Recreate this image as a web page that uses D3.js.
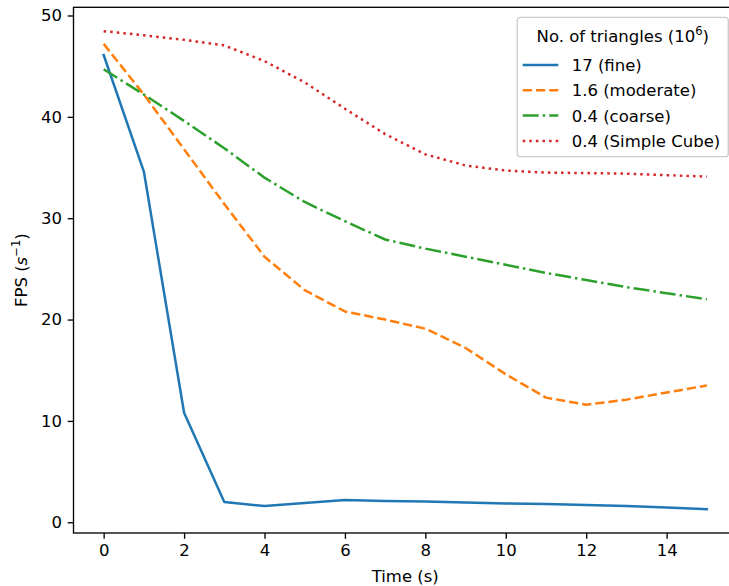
<!DOCTYPE html>
<html>
<head>
<meta charset="utf-8">
<script src="https://cdn.jsdelivr.net/npm/d3@7/dist/d3.min.js"></script>
<style>
  html, body { margin: 0; padding: 0; background: #fff; }
  svg { display: block; }
  text { font-family: "DejaVu Sans", sans-serif; fill: #000; }
</style>
</head>
<body>
<svg id="chart" width="729" height="586"></svg>
<script>
// ---- data ----
const time = [0,1,2,3,4,5,6,7,8,9,10,11,12,13,14,15];
const fine     = [46.1, 34.6, 10.8, 2.0, 1.6, 1.9, 2.2, 2.1, 2.05, 1.95, 1.85, 1.8, 1.7, 1.6, 1.45, 1.3];
const moderate = [47.2, 42.2, 36.8, 31.4, 26.2, 22.9, 20.8, 20.0, 19.1, 17.2, 14.6, 12.3, 11.6, 12.1, 12.8, 13.5];
const coarse   = [44.7, 42.2, 39.6, 36.9, 34.0, 31.6, 29.7, 27.9, 27.0, 26.2, 25.4, 24.6, 23.9, 23.2, 22.6, 22.0];
const cube     = [48.45, 48.05, 47.6, 47.05, 45.5, 43.4, 40.8, 38.3, 36.3, 35.2, 34.7, 34.5, 34.45, 34.4, 34.25, 34.1];
const seriesLabels = ["17 (fine)", "1.6 (moderate)", "0.4 (coarse)", "0.4 (Simple Cube)"];
const xTicks = [0,2,4,6,8,10,12,14];
const yTicks = [0,10,20,30,40,50];

const seriesValues = [fine, moderate, coarse, cube];
const colors = ["#1f77b4", "#ff7f0e", "#2ca02c", "#d62728"];
const dashes = [null, "9.25 4", "16 4 2.5 4", "2.5 4.1"];

const svg = d3.select("#chart");
const fs = 16.5;
const L = 73.5, R = 737, T = 7.3, B = 533;

const xMin = d3.min(time), xMax = d3.max(time);
const xPad = (xMax - xMin) * 0.05;
const allY = seriesValues.flat();
const yMin = d3.min(allY), yMax = d3.max(allY);
const yPad = (yMax - yMin) * 0.05;

const x = d3.scaleLinear().domain([xMin - xPad, xMax + xPad]).range([L, R]);
const y = d3.scaleLinear().domain([yMin - yPad, yMax + yPad]).range([B, T]);

// lines
const line = d3.line().x((d, i) => x(time[i])).y(d => y(d));
const g = svg.append("g");
seriesValues.forEach((vals, k) => {
  g.append("path")
    .datum(vals)
    .attr("d", line)
    .attr("fill", "none")
    .attr("stroke", colors[k])
    .attr("stroke-width", 2.5)
    .attr("stroke-linejoin", "round")
    .attr("stroke-linecap", k === 0 ? "square" : "butt")
    .attr("stroke-dasharray", dashes[k]);
});

// axes
const xAxis = d3.axisBottom(x).tickValues(xTicks).tickSize(5.8).tickPadding(5.8).tickFormat(d3.format("d"));
const yAxis = d3.axisLeft(y).tickValues(yTicks).tickSize(5.8).tickPadding(5.8).tickFormat(d3.format("d"));

const gx = svg.append("g").attr("transform", `translate(0,${B})`).call(xAxis);
const gy = svg.append("g").attr("transform", `translate(${L},0)`).call(yAxis);
[gx, gy].forEach(ax => {
  ax.select(".domain").remove();
  ax.selectAll(".tick line").attr("stroke", "#000").attr("stroke-width", 1.33);
  ax.selectAll(".tick text").style("font-family", "DejaVu Sans").style("font-size", fs + "px").attr("fill", "#000");
});

// spines
svg.append("rect")
  .attr("x", L).attr("y", T).attr("width", R - L).attr("height", B - T)
  .attr("fill", "none").attr("stroke", "#000").attr("stroke-width", 1.33);

// axis labels
svg.append("text")
  .attr("x", (L + R) / 2).attr("y", 582)
  .attr("text-anchor", "middle").style("font-size", fs + "px")
  .text("Time (s)");

const yl = svg.append("text")
  .attr("transform", `translate(27,${(T + B) / 2}) rotate(-90)`)
  .attr("text-anchor", "middle").style("font-size", fs + "px");
yl.append("tspan").text("FPS (");
yl.append("tspan").style("font-style", "italic").text("s");
yl.append("tspan").attr("dy", -7).style("font-size", (fs * 0.7) + "px").text("\u22121");
yl.append("tspan").attr("dy", 7).text(")");

// legend
const lg = svg.append("g");
const lx = 517.3, ly = 17.3, lw = 211, lh = 139.4;
lg.append("rect")
  .attr("x", lx).attr("y", ly).attr("width", lw).attr("height", lh)
  .attr("rx", 3.3).attr("ry", 3.3)
  .attr("fill", "rgba(255,255,255,0.8)").attr("stroke", "#cccccc").attr("stroke-width", 1.33);

const tt = lg.append("text")
  .attr("x", lx + lw / 2).attr("y", 41.7)
  .attr("text-anchor", "middle").style("font-size", fs + "px");
tt.append("tspan").text("No. of triangles (10");
tt.append("tspan").attr("dy", -7).style("font-size", (fs * 0.7) + "px").text("6");
tt.append("tspan").attr("dy", 7).text(")");

const rowH = 25.3, row0 = 65;
seriesLabels.forEach((lab, k) => {
  const cy = row0 + k * rowH;
  lg.append("line")
    .attr("x1", 522.7).attr("x2", 558.3).attr("y1", cy).attr("y2", cy)
    .attr("stroke", colors[k]).attr("stroke-width", 2.5)
    .attr("stroke-dasharray", dashes[k]);
  lg.append("text")
    .attr("x", 571.7).attr("y", cy + 6)
    .style("font-size", fs + "px")
    .text(lab);
});
</script>
</body>
</html>
